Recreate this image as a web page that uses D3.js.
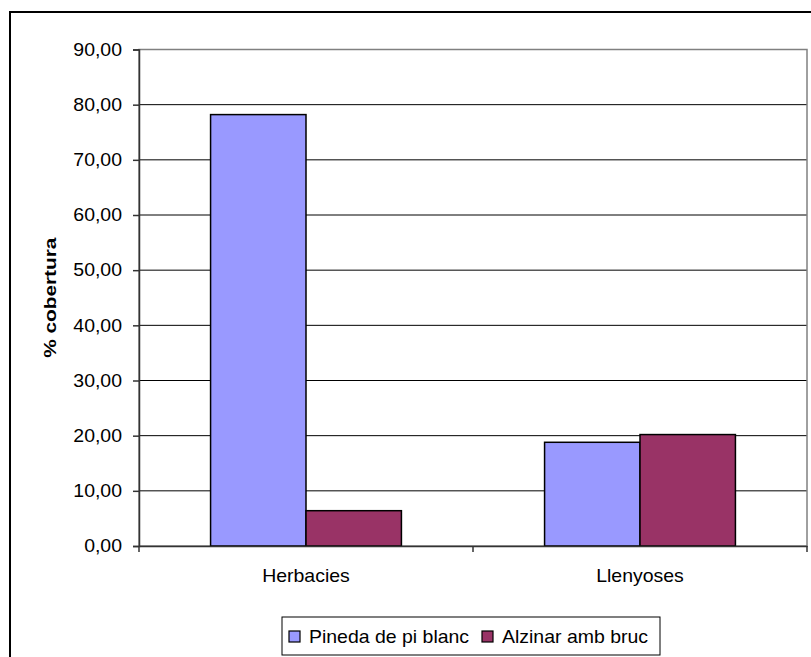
<!DOCTYPE html>
<html>
<head>
<meta charset="utf-8">
<script src="https://cdn.jsdelivr.net/npm/d3@7"></script>
<style>
  html, body { margin: 0; padding: 0; background: #fff; }
  svg { display: block; font-family: "Liberation Sans", Arial, sans-serif; }
</style>
</head>
<body>
<svg id="chart" width="811" height="657"></svg>
<script>
// Vegetation cover by layer and forest type
const categories = ["Herbacies", "Llenyoses"];
const seriesNames = ["Pineda de pi blanc", "Alzinar amb bruc"];
const pinedaValues = [78.2, 18.8];
const alzinarValues = [6.4, 20.2];
const yTicks = [0, 10, 20, 30, 40, 50, 60, 70, 80, 90];
const seriesColors = ["#9999FF", "#993366"];

const seriesValues = [pinedaValues, alzinarValues];

const svg = d3.select("#chart");
const plot = { left: 139, right: 807, top: 49.5, bottom: 546 };
const fontSize = 17.7;
const stretch = 1.1; // text in this chart is set slightly wide

// Outer chart frame (runs off the right and bottom edges)
svg.append("rect")
  .attr("x", 10).attr("y", 12)
  .attr("width", 820).attr("height", 660)
  .attr("fill", "#fff").attr("stroke", "#000").attr("stroke-width", 2);

const y = d3.scaleLinear().domain([0, 90]).range([plot.bottom, plot.top]);
const x0 = d3.scaleBand().domain(categories).range([plot.left, plot.right]).padding(0);
const x1 = d3.scaleBand().domain(seriesNames).range([0, x0.bandwidth()])
  .paddingInner(0).paddingOuter(0.75);

// Horizontal gridlines
svg.append("g").selectAll("line")
  .data(yTicks.filter(t => t > 0 && t < 90))
  .join("line")
  .attr("x1", plot.left).attr("x2", plot.right)
  .attr("y1", d => y(d)).attr("y2", d => y(d))
  .attr("stroke", "#000").attr("stroke-width", 1);

// Plot area border
svg.append("rect")
  .attr("x", plot.left).attr("y", plot.top)
  .attr("width", plot.right - plot.left).attr("height", plot.bottom - plot.top)
  .attr("fill", "none").attr("stroke", "#808080").attr("stroke-width", 1.5);

// Bars
const groups = svg.append("g").selectAll("g")
  .data(categories)
  .join("g")
  .attr("transform", d => `translate(${x0(d)},0)`);

groups.selectAll("rect")
  .data((c, i) => seriesNames.map((s, j) => ({ s, j, v: seriesValues[j][i] })))
  .join("rect")
  .attr("x", d => x1(d.s))
  .attr("width", x1.bandwidth())
  .attr("y", d => y(d.v))
  .attr("height", d => y(0) - y(d.v))
  .attr("fill", d => seriesColors[d.j])
  .attr("stroke", "#000").attr("stroke-width", 1.5);

// Y axis
const yAxis = d3.axisLeft(y)
  .tickValues(yTicks)
  .tickSize(6)
  .tickPadding(11)
  .tickFormat(d => d3.format(".2f")(d).replace(".", ","));
const gy = svg.append("g").attr("transform", `translate(${plot.left},0)`).call(yAxis);
gy.select(".domain").attr("stroke", "#333").attr("stroke-width", 1.5);
gy.selectAll(".tick line").attr("stroke", "#333").attr("stroke-width", 1.5);
gy.selectAll(".tick text")
  .attr("font-size", fontSize).attr("fill", "#000")
  .attr("font-family", "Liberation Sans, Arial, sans-serif")
  .attr("x", -17 / stretch)
  .attr("transform", `scale(${stretch},1)`);

// X axis
const xAxis = d3.axisBottom(x0).tickSize(0).tickPadding(23);
const gx = svg.append("g").attr("transform", `translate(0,${plot.bottom})`).call(xAxis);
gx.select(".domain").attr("stroke", "#333").attr("stroke-width", 1.5);
gx.selectAll(".tick text")
  .attr("font-size", fontSize).attr("fill", "#000")
  .attr("font-family", "Liberation Sans, Arial, sans-serif")
  .attr("transform", `scale(${stretch},1)`);
// Category boundary tick marks
gx.append("g").selectAll("line")
  .data([plot.left, ...categories.map(c => x0(c) + x0.bandwidth())])
  .join("line")
  .attr("x1", d => d).attr("x2", d => d)
  .attr("y1", 0).attr("y2", 6)
  .attr("stroke", "#333").attr("stroke-width", 1.5);

// Y axis title
svg.append("text")
  .attr("transform", `translate(56,${(plot.top + plot.bottom) / 2}) rotate(-90) scale(1.3,1)`)
  .attr("text-anchor", "middle")
  .attr("font-size", 16).attr("font-weight", "bold")
  .text("% cobertura");

// Legend
const legend = svg.append("g");
legend.append("rect")
  .attr("x", 282).attr("y", 617).attr("width", 378).attr("height", 38)
  .attr("fill", "#fff").attr("stroke", "#000").attr("stroke-width", 1);
const itemX = [289, 482];
const items = legend.selectAll("g.item").data(seriesNames).join("g").attr("class", "item")
  .attr("transform", (d, i) => `translate(${itemX[i]},0)`);
items.append("rect")
  .attr("x", 0).attr("y", 631).attr("width", 11).attr("height", 11)
  .attr("fill", (d, i) => seriesColors[i]).attr("stroke", "#000").attr("stroke-width", 1.2);
items.append("text")
  .attr("transform", `translate(20,643) scale(${stretch},1)`)
  .attr("font-size", fontSize)
  .text(d => d);
</script>
</body>
</html>
